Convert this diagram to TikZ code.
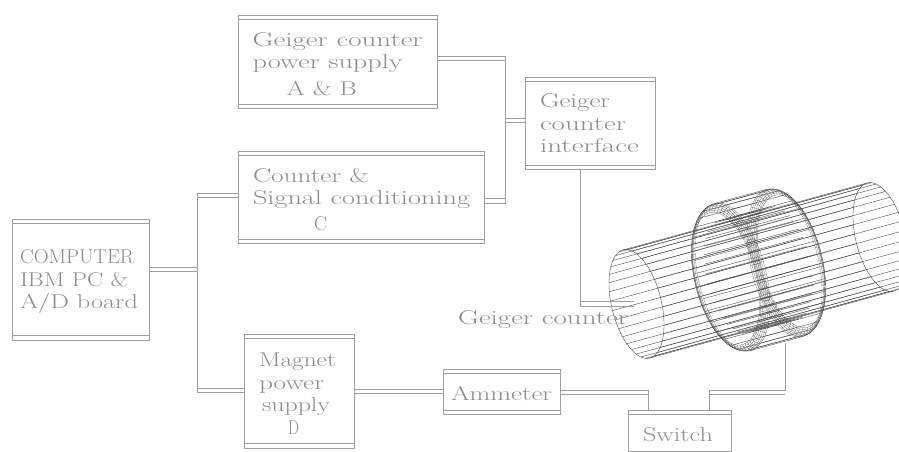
\documentclass[tikz,border=0pt]{standalone}
\usepackage{graphicx}
\usetikzlibrary{calc}
\definecolor{wirec}{gray}{0.62}
\definecolor{textc}{gray}{0.55}
\definecolor{meshc}{gray}{0.30}
\newcommand\fit[2]{\setbox0=\hbox{#2}\pgfmathsetmacro\fitr{#1/(\wd0/1pt)}\scalebox{\fitr}[1]{\box0}}
% boxes: name, x1,y1,x2,y2, y of inner lines
\newcommand\blockbox[7]{%
  \node[blockb,minimum width={(#4-#2)*1pt},minimum height={(#5-#3)*1pt}] (#1) at ({(#2+#4)/2},{(#3+#5)/2}) {};
  \draw[wire] (#1.west |- 0,#6) -- (#1.east |- 0,#6);
  \draw[wire] (#1.west |- 0,#7) -- (#1.east |- 0,#7);}
\tikzset{
  wire/.style={draw=wirec,line width=.8pt},
  blockb/.style={draw=wirec,line width=.8pt,rectangle,inner sep=0pt,outer sep=0pt},
  lab/.style={text=textc,font=\fontsize{20}{22.5}\selectfont,align=left,anchor=north west,inner sep=0pt,outer sep=0pt},
  mesh/.style={draw=meshc,line width=.4pt},
  meshfine/.style={draw=meshc,line width=.18pt},
}
\begin{document}
\begin{tikzpicture}[x=1pt,y=-1pt]
\useasboundingbox (0,0) rectangle (899,452);
% ---- wireframe
\begin{scope}
\clip (0,0) rectangle (899,452);
% tube
\def\cx{636.5}\def\cy{304}
\def\ax{13.5}\def\ay{54}\def\bx{24}\def\by{-6.6}
\def\ux{244}\def\uy{-67}
\foreach \t in {0,10,...,350}{
  \draw[mesh] ({\cx+\ax*cos(\t)+\bx*sin(\t)},{\cy+\ay*cos(\t)+\by*sin(\t)}) -- ({\cx+\ux+\ax*cos(\t)+\bx*sin(\t)},{\cy+\uy+\ay*cos(\t)+\by*sin(\t)});
}
\draw[mesh] plot[smooth cycle,samples=36,domain=0:350] ({\cx+\ax*cos(\x)+\bx*sin(\x)},{\cy+\ay*cos(\x)+\by*sin(\x)});
\draw[mesh] plot[smooth cycle,samples=36,domain=0:350] ({\cx+\ux+\ax*cos(\x)+\bx*sin(\x)},{\cy+\uy+\ay*cos(\x)+\by*sin(\x)});
% coil
\def\ccx{758.5}\def\ccy{270}\def\hx{26}\def\hy{-7}
% inner cylinder
\foreach \t in {0,10,...,350}{
  \draw[mesh] ({\ccx-\hx+1.04*(\ax*cos(\t)+\bx*sin(\t))},{\ccy-\hy+1.04*(\ay*cos(\t)+\by*sin(\t))}) -- ({\ccx+\hx+1.04*(\ax*cos(\t)+\bx*sin(\t))},{\ccy+\hy+1.04*(\ay*cos(\t)+\by*sin(\t))});
}
% rounded rims: meridians
\foreach \t in {0,5,...,355}{
  \draw[meshfine] plot[samples=7,domain=0:90,variable=\p]
    ({\ccx-\hx-0.25*\hx*sin(\p)+(1.22+0.14*cos(\p))*(\ax*cos(\t)+\bx*sin(\t))},
     {\ccy-\hy-0.25*\hy*sin(\p)+(1.22+0.14*cos(\p))*(\ay*cos(\t)+\by*sin(\t))});
  \draw[meshfine] plot[samples=7,domain=0:90,variable=\p]
    ({\ccx+\hx+0.25*\hx*sin(\p)+(1.22+0.14*cos(\p))*(\ax*cos(\t)+\bx*sin(\t))},
     {\ccy+\hy+0.25*\hy*sin(\p)+(1.22+0.14*cos(\p))*(\ay*cos(\t)+\by*sin(\t))});
}
% rounded rims: rings
\foreach \p in {0,15,...,90}{
  \draw[meshfine] plot[smooth cycle,samples=36,domain=0:350,variable=\t]
    ({\ccx-\hx-0.25*\hx*sin(\p)+(1.22+0.14*cos(\p))*(\ax*cos(\t)+\bx*sin(\t))},
     {\ccy-\hy-0.25*\hy*sin(\p)+(1.22+0.14*cos(\p))*(\ay*cos(\t)+\by*sin(\t))});
  \draw[meshfine] plot[smooth cycle,samples=36,domain=0:350,variable=\t]
    ({\ccx+\hx+0.25*\hx*sin(\p)+(1.22+0.14*cos(\p))*(\ax*cos(\t)+\bx*sin(\t))},
     {\ccy+\hy+0.25*\hy*sin(\p)+(1.22+0.14*cos(\p))*(\ay*cos(\t)+\by*sin(\t))});
}
% outer generators
\foreach \t in {0,10,...,350}{
  \draw[mesh] ({\ccx-\hx+1.36*(\ax*cos(\t)+\bx*sin(\t))},{\ccy-\hy+1.36*(\ay*cos(\t)+\by*sin(\t))}) -- ({\ccx+\hx+1.36*(\ax*cos(\t)+\bx*sin(\t))},{\ccy+\hy+1.36*(\ay*cos(\t)+\by*sin(\t))});
}
\end{scope}
% ---- blocks
\blockbox{pc}{12.5}{219}{149}{340}{223}{335}
\blockbox{ps}{238}{15}{437}{108}{19}{104}
\blockbox{cnt}{238}{151}{484}{243}{155}{239}
\blockbox{gif}{525}{77}{655}{169}{81}{165}
\blockbox{mag}{244}{334}{354}{448}{338}{443}
\blockbox{amm}{443}{369}{560}{414}{373}{410}
\blockbox{sw}{628}{410}{731}{451}{414}{451}
% ---- wires
\coordinate (busa) at (197,0);
\coordinate (busb) at (505,0);
\coordinate (probe) at (634,0);
\coordinate (tapa) at (648,0);
\coordinate (tapb) at (709,0);
\coordinate (tapc) at (580,0);
\coordinate (riser) at (785,343);
\draw[wire] (pc.east |- 0,267) -- (busa |- 0,267);
\draw[wire] (pc.east |- 0,271) -- (busa |- 0,271);
\draw[wire] (cnt.west |- 0,193) -- (busa |- 0,193) -- (busa |- 0,392) -- (mag.west |- 0,392);
\draw[wire] (cnt.west |- 0,197) -- (busa |- 0,197);
\draw[wire] (mag.west |- 0,388) -- (busa |- 0,388);
\draw[wire] (ps.east |- 0,56) -- (busb |- 0,56) -- (busb |- 0,203) -- (cnt.east |- 0,203);
\draw[wire] (ps.east |- 0,60) -- (busb |- 0,60);
\draw[wire] (cnt.east |- 0,198) -- (busb |- 0,198);
\draw[wire] (busb |- 0,118) -- (gif.west |- 0,118);
\draw[wire] (busb |- 0,122) -- (gif.west |- 0,122);
\draw[wire] (tapc |- gif.south) -- (tapc |- 0,306) -- (probe |- 0,306);
\draw[wire] (tapc |- 0,301) -- (probe |- 0,301);
\draw[wire] (mag.east |- 0,389) -- (amm.west |- 0,389);
\draw[wire] (mag.east |- 0,393) -- (amm.west |- 0,393);
\draw[wire] (amm.east |- 0,390) -- (tapa |- 0,390) -- (tapa |- sw.north);
\draw[wire] (amm.east |- 0,394) -- (tapa |- 0,394);
\draw[wire] (tapb |- sw.north) -- (tapb |- 0,390) -- (riser |- 0,390) -- (riser);
\draw[wire] (tapb |- 0,394) -- (riser |- 0,394);
% ---- labels
\node[lab] (tps) at (252.7,32.5) {\fit{170}{Geiger counter}\\\fit{150}{power supply}\\[4.5pt]\hspace{34pt}\fit{70}{A \& B}};
\node[lab] (tcnt) at (253,168) {\fit{116}{Counter \&}\\\fit{217}{Signal conditioning}\\[3.5pt]\hspace{61pt}\fit{13}{C}};
\node[lab] (tpc) at (20,250) {\fit{114}{COMPUTER}\\\fit{108}{IBM PC \&}\\\fit{118}{A/D board}};
\node[lab] (tgif) at (540,94) {\fit{70}{Geiger}\\\fit{86}{counter}\\\fit{99}{interface}};
\node[lab] (tmag) at (259,353) {\fit{77}{Magnet}\\\fit{65}{power}\\\hspace{3pt}\fit{68}{supply}\\\hspace{29pt}\fit{11}{D}};
\node[lab] (tamm) at (451,386) {\fit{101}{Ammeter}};
\node[lab] (tsw) at (643,428) {\fit{70}{Switch}};
\node[lab] (tgc) at (458,311) {\fit{170}{Geiger counter}};
\end{tikzpicture}
\end{document}
